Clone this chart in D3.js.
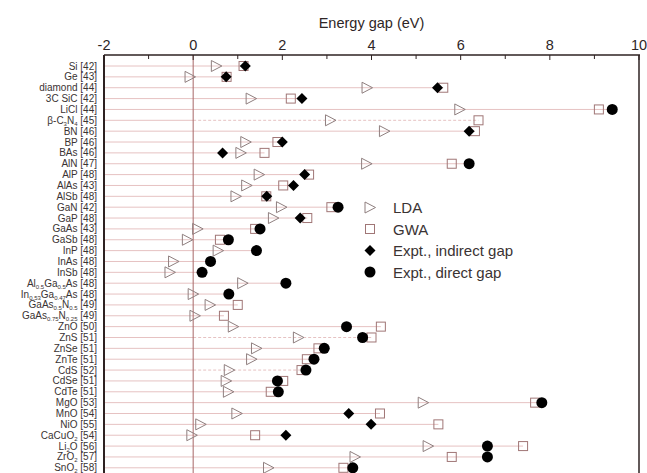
<!DOCTYPE html>
<html>
<head>
    <meta charset="utf-8">
    <title>Energy gaps</title>
    <script src="https://d3js.org/d3.v7.min.js"></script>
    <style>
        body { margin: 0; background: #fff; }
        text { font-family: "Liberation Sans", Arial, sans-serif; }
    </style>
</head>
<body>
    <script>
        // rows, top to bottom ("_{..}" marks a subscript)
        const materials = [
            'Si [42]', 'Ge [43]', 'diamond [44]', '3C SiC [42]', 'LiCl [44]', 'β-C_{3}N_{4} [45]',
            'BN [46]', 'BP [46]', 'BAs [46]', 'AlN [47]', 'AlP [48]', 'AlAs [43]', 'AlSb [48]',
            'GaN [42]', 'GaP [48]', 'GaAs [43]', 'GaSb [48]', 'InP [48]', 'InAs [48]', 'InSb [48]',
            'Al_{0.5}Ga_{0.5}As [48]', 'In_{0.53}Ga_{0.47}As [48]', 'GaAs_{0.5}N_{0.5} [49]',
            'GaAs_{0.75}N_{0.25} [49]', 'ZnO [50]', 'ZnS [51]', 'ZnSe [51]', 'ZnTe [51]', 'CdS [52]',
            'CdSe [51]', 'CdTe [51]', 'MgO [53]', 'MnO [54]', 'NiO [55]', 'CaCuO_{2} [54]',
            'Li_{2}O [56]', 'ZrO_{2} [57]', 'SnO_{2} [58]'
        ];

        const lda = [0.52, -0.07, 3.90, 1.30, 5.98, 3.08, 4.29, 1.18, 1.07, 3.89, 1.48, 1.20, 0.96,
            1.98, 1.80, 0.10, -0.13, 0.56, -0.44, -0.52, 1.11, 0.00, 0.38, 0.04, 0.90, 2.36, 1.42,
            1.31, 0.81, 0.74, 0.79, 5.16, 0.98, 0.17, -0.03, 5.27, 3.63, 1.69];

        const gwa = [1.13, 0.75, 5.61, 2.19, 9.10, 6.40, 6.32, 1.89, 1.60, 5.80, 2.60, 2.02, 1.64,
            3.10, 2.56, 1.39, 0.60, null, null, null, null, null, 1.00, 0.69, 4.21, 4.00, 2.81,
            2.55, 2.43, 2.02, 1.74, 7.67, 4.19, 5.50, 1.39, 7.40, 5.80, 3.37];

        const exptIndirect = [1.17, 0.74, 5.48, 2.44, null, null, 6.19, 2.00, 0.66, null, 2.50, 2.25, 1.65,
            null, 2.40, null, null, null, null, null, null, null, null, null, null, null, null,
            null, null, null, null, null, 3.49, 3.99, 2.08, null, null, null];

        const exptDirect = [null, null, null, null, 9.40, null, null, null, null, 6.19, null, null, null,
            3.25, null, 1.50, 0.79, 1.42, 0.39, 0.20, 2.08, 0.80, null, null, 3.44, 3.80, 2.94,
            2.71, 2.53, 1.89, 1.91, 7.82, null, null, null, 6.60, 6.60, 3.58];

        const xTicks = [-2, 0, 2, 4, 6, 8, 10];
        const legendLabels = ['LDA', 'GWA', 'Expt., indirect gap', 'Expt., direct gap'];
        const dashedRows = ['β-C_{3}N_{4} [45]', 'ZnS [51]', 'CdS [52]'];

        const width = 647, height = 473;
        const margin = { left: 104, right: 639, top: 55 };

        const svg = d3.select('body').append('svg')
            .attr('width', width)
            .attr('height', height);

        const x = d3.scaleLinear().domain([-2, 10]).range([margin.left, margin.right]);
        const y = d3.scalePoint().domain(materials).range([66, 467.8]);

        const rows = materials.map((m, i) => ({
            name: m,
            lda: lda[i], gwa: gwa[i], ind: exptIndirect[i], dir: exptDirect[i],
            max: d3.max([lda[i], gwa[i], exptIndirect[i], exptDirect[i]])
        }));

        const lineColor = '#e6c2c2';

        // row guide lines
        const g = svg.append('g');
        g.selectAll('line.row-left')
            .data(rows)
            .enter().append('line')
            .attr('x1', margin.left).attr('x2', x(0))
            .attr('y1', d => y(d.name)).attr('y2', d => y(d.name))
            .attr('stroke', lineColor).attr('stroke-width', 1);

        g.selectAll('line.row-right')
            .data(rows)
            .enter().append('line')
            .attr('x1', x(0)).attr('x2', d => x(d.max))
            .attr('y1', d => y(d.name)).attr('y2', d => y(d.name))
            .attr('stroke', lineColor).attr('stroke-width', 1)
            .attr('stroke-dasharray', d => dashedRows.includes(d.name) ? '3,2' : null);

        // zero line
        svg.append('line')
            .attr('x1', x(0)).attr('x2', x(0))
            .attr('y1', margin.top).attr('y2', height + 10)
            .attr('stroke', '#a86868').attr('stroke-width', 1);

        // markers
        const triangle = 'M-5,-5.5L5.5,0L-5,5.5Z';
        svg.append('g').selectAll('path')
            .data(rows.filter(d => d.lda != null))
            .enter().append('path')
            .attr('d', triangle)
            .attr('transform', d => `translate(${x(d.lda)},${y(d.name)})`)
            .attr('fill', 'none')
            .attr('stroke', '#8f7f7f').attr('stroke-width', 1);

        svg.append('g').selectAll('rect')
            .data(rows.filter(d => d.gwa != null))
            .enter().append('rect')
            .attr('x', d => x(d.gwa) - 4.5)
            .attr('y', d => y(d.name) - 4.5)
            .attr('width', 9).attr('height', 9)
            .attr('fill', 'none')
            .attr('stroke', '#a07676').attr('stroke-width', 1);

        svg.append('g').selectAll('path')
            .data(rows.filter(d => d.ind != null))
            .enter().append('path')
            .attr('d', 'M0,-5.5L5.5,0L0,5.5L-5.5,0Z')
            .attr('transform', d => `translate(${x(d.ind)},${y(d.name)})`)
            .attr('fill', '#000');

        svg.append('g').selectAll('circle')
            .data(rows.filter(d => d.dir != null))
            .enter().append('circle')
            .attr('cx', d => x(d.dir))
            .attr('cy', d => y(d.name))
            .attr('r', 5.5)
            .attr('fill', '#000');

        // frame
        const frame = svg.append('g').attr('stroke', '#2e2222').attr('fill', 'none');
        frame.append('line').attr('x1', margin.left).attr('x2', margin.right + 1)
            .attr('y1', margin.top).attr('y2', margin.top).attr('stroke-width', 1.5);
        frame.append('line').attr('x1', margin.left).attr('x2', margin.left)
            .attr('y1', margin.top).attr('y2', height + 10).attr('stroke-width', 2);
        frame.append('line').attr('x1', margin.right).attr('x2', margin.right)
            .attr('y1', margin.top).attr('y2', height + 10).attr('stroke-width', 1.5);

        // ticks on top axis, pointing inward
        const minorTicks = d3.range(-1, 10, 2);
        frame.selectAll('line.major')
            .data(xTicks)
            .enter().append('line')
            .attr('x1', d => x(d)).attr('x2', d => x(d))
            .attr('y1', margin.top).attr('y2', margin.top + 5)
            .attr('stroke-width', 1);
        frame.selectAll('line.minor')
            .data(minorTicks)
            .enter().append('line')
            .attr('x1', d => x(d)).attr('x2', d => x(d))
            .attr('y1', margin.top).attr('y2', margin.top + 4)
            .attr('stroke-width', 1);

        svg.append('g').selectAll('text')
            .data(xTicks)
            .enter().append('text')
            .attr('x', d => x(d))
            .attr('y', 50)
            .attr('text-anchor', 'middle')
            .attr('font-size', '14.5px')
            .attr('fill', '#2e2626')
            .text(d => d);

        svg.append('text')
            .attr('x', x(4))
            .attr('y', 28)
            .attr('text-anchor', 'middle')
            .attr('font-size', '14.5px')
            .attr('fill', '#2e2626')
            .text('Energy gap (eV)');

        // row labels with subscripts
        svg.append('g').selectAll('text')
            .data(materials)
            .enter().append('text')
            .attr('x', 97)
            .attr('y', d => y(d) + 3.5)
            .attr('text-anchor', 'end')
            .attr('font-size', '10px')
            .attr('fill', '#3a3333')
            .each(function(d) {
                const t = d3.select(this);
                let shifted = false;
                d.split(/(_\{[^}]*\})/).filter(s => s.length).forEach(part => {
                    if (part.startsWith('_{')) {
                        t.append('tspan')
                            .attr('font-size', '6px')
                            .attr('dy', 2)
                            .text(part.slice(2, -1));
                        shifted = true;
                    } else {
                        t.append('tspan')
                            .attr('dy', shifted ? -2 : null)
                            .text(part);
                        shifted = false;
                    }
                });
            });

        // legend
        const legend = svg.append('g');
        const ly = d3.scalePoint().domain(legendLabels).range([207.5, 272]);
        const lx = 370;
        legend.append('path').attr('d', triangle)
            .attr('transform', `translate(${lx},${ly('LDA')})`)
            .attr('fill', 'none').attr('stroke', '#8f7f7f');
        legend.append('rect')
            .attr('x', lx - 4.5).attr('y', ly('GWA') - 4.5)
            .attr('width', 9).attr('height', 9)
            .attr('fill', 'none').attr('stroke', '#a07676');
        legend.append('path').attr('d', 'M0,-5.5L5.5,0L0,5.5L-5.5,0Z')
            .attr('transform', `translate(${lx},${ly('Expt., indirect gap')})`)
            .attr('fill', '#000');
        legend.append('circle')
            .attr('cx', lx).attr('cy', ly('Expt., direct gap')).attr('r', 5.5)
            .attr('fill', '#000');
        legend.selectAll('text')
            .data(legendLabels)
            .enter().append('text')
            .attr('x', 393)
            .attr('y', d => ly(d) + 5.5)
            .attr('font-size', '15px')
            .attr('fill', '#3a3333')
            .text(d => d);
    </script>
</body>
</html>
